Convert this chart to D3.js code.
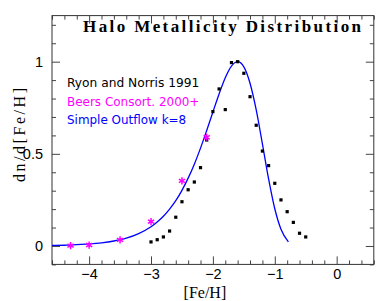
<!DOCTYPE html>
<html>
<head>
<meta charset="utf-8">
<script src="https://cdn.jsdelivr.net/npm/d3@7"></script>
<style>
  body { margin: 0; background: #fff; }
  svg { display: block; }
</style>
</head>
<body>
<div id="d3-container"></div>
<script>
/* CONSTANTS AND GLOBALS */
const width = 382,
  height = 301,
  margin = { top: 15.6, bottom: 36.6, left: 52, right: 8.2 };

// Ryan and Norris 1991 (black squares)
const rnFeH = [-3.0, -2.9, -2.8, -2.7, -2.6, -2.5, -2.4, -2.3, -2.2, -2.1, -2.0, -1.9, -1.8,
  -1.7, -1.6, -1.5, -1.4, -1.3, -1.2, -1.1, -1.0, -0.9, -0.8, -0.7, -0.6, -0.5];
const rnN = [0.022, 0.034, 0.049, 0.081, 0.156, 0.24, 0.305, 0.347, 0.425, 0.575, 0.729, 0.852, 0.74,
  0.995, 1.0, 0.937, 0.81, 0.655, 0.515, 0.436, 0.34, 0.25, 0.186, 0.128, 0.069, 0.049];

// Beers Consort. 2000+ (magenta stars)
const beersFeH = [-4.3, -4.0, -3.5, -3.0, -2.5, -2.1];
const beersN = [0.002, 0.005, 0.033, 0.132, 0.353, 0.59];

// Simple Outflow k=8 (blue curve)
const outflowFeH = [-4.6, -4.4, -4.2, -4.0, -3.8, -3.6, -3.4, -3.2, -3.0, -2.9, -2.8, -2.7, -2.6,
  -2.5, -2.4, -2.3, -2.2, -2.1, -2.0, -1.9, -1.8, -1.7, -1.6, -1.5, -1.4, -1.3, -1.2, -1.1,
  -1.0, -0.9, -0.78];
const outflowN = [0.003, 0.004, 0.007, 0.011, 0.017, 0.027, 0.042, 0.067, 0.104, 0.13, 0.161, 0.2, 0.246,
  0.302, 0.368, 0.444, 0.531, 0.627, 0.727, 0.825, 0.913, 0.976, 1.0, 0.972, 0.883, 0.738, 0.554, 0.364,
  0.202, 0.091, 0.022];

const xMajor = [-4, -3, -2, -1, 0];
const yMajor = [0, 0.5, 1];

const legendItems = ["Ryon and Norris 1991", "Beers Consort. 2000+", "Simple Outflow k=8"];
const legendColors = ["#000", "#ff00ff", "#0000ff"];

let svg;

/* INITIALIZING FUNCTION */
init();

function init() {
  svg = d3.select("#d3-container")
    .append("svg")
    .attr("width", width)
    .attr("height", height);
  draw();
}

/* DRAW FUNCTION */
function draw() {
  const x = d3.scaleLinear().domain([-4.6, 0.6]).range([margin.left, width - margin.right]);
  const y = d3.scaleLinear().domain([-0.1, 1.25]).range([height - margin.bottom, margin.top]);

  const xMinor = d3.range(-4.6, 0.61, 0.2).map(d => +d.toFixed(1)).filter(d => !xMajor.includes(d));
  const yMinor = d3.range(-0.1, 1.251, 0.1).map(d => +d.toFixed(1)).filter(d => !yMajor.includes(d));

  const x0 = x.range()[0], x1 = x.range()[1], y0 = y.range()[0], y1 = y.range()[1];

  // ticks, inward on all four sides
  const addAxis = (axisFn, pos, values, size, labels) => {
    const ax = axisFn(axisFn === d3.axisBottom || axisFn === d3.axisTop ? x : y)
      .tickValues(values)
      .tickSize(-size)
      .tickPadding(axisFn === d3.axisBottom ? 4 : 9)
      .tickFormat(labels ? (axisFn === d3.axisBottom ? d3.format("d") : d => String(d)) : "");
    const g = svg.append("g").attr("transform", pos).call(ax);
    g.select(".domain").remove();
    g.selectAll(".tick line").attr("stroke", "#444");
    g.selectAll("text")
      .attr("fill", "#000")
      .style("font-family", "'Liberation Sans', Arial, sans-serif")
      .style("font-size", "14.5px");
    return g;
  };

  addAxis(d3.axisBottom, `translate(0,${y0})`, xMajor, 8, true);
  addAxis(d3.axisBottom, `translate(0,${y0})`, xMinor, 4, false);
  addAxis(d3.axisTop, `translate(0,${y1})`, xMajor, 8, false);
  addAxis(d3.axisTop, `translate(0,${y1})`, xMinor, 4, false);
  addAxis(d3.axisLeft, `translate(${x0},0)`, yMajor, 8, true);
  addAxis(d3.axisLeft, `translate(${x0},0)`, yMinor, 4, false);
  addAxis(d3.axisRight, `translate(${x1},0)`, yMajor, 8, false);
  addAxis(d3.axisRight, `translate(${x1},0)`, yMinor, 4, false);

  // frame
  svg.append("rect")
    .attr("x", x0).attr("y", y1)
    .attr("width", x1 - x0).attr("height", y0 - y1)
    .attr("fill", "none")
    .attr("stroke", "#333")
    .attr("stroke-width", 1);

  // axis titles
  svg.append("text")
    .attr("x", (x0 + x1) / 2 - 8)
    .attr("y", 298)
    .attr("text-anchor", "middle")
    .style("font-family", "'Liberation Serif', 'Times New Roman', serif")
    .style("font-size", "16px")
    .text("[Fe/H]");

  svg.append("text")
    .attr("transform", "translate(25,135) rotate(-90)")
    .attr("text-anchor", "middle")
    .attr("textLength", 94)
    .attr("lengthAdjust", "spacing")
    .style("font-family", "'Liberation Serif', 'Times New Roman', serif")
    .style("font-size", "16px")
    .text("dn/d[Fe/H]");

  // title
  svg.append("text")
    .attr("x", 83)
    .attr("y", 32)
    .attr("textLength", 278)
    .attr("lengthAdjust", "spacing")
    .style("font-family", "'Liberation Serif', 'Times New Roman', serif")
    .style("font-weight", "bold")
    .style("font-size", "17px")
    .text("Halo Metallicity Distribution");

  // legend
  svg.selectAll("text.legend")
    .data(legendItems)
    .join("text")
    .attr("class", "legend")
    .attr("x", 67)
    .attr("y", (d, i) => 87 + i * 18.5)
    .attr("fill", (d, i) => legendColors[i])
    .attr("textLength", d => d.length * 6.62)
    .attr("lengthAdjust", "spacingAndGlyphs")
    .style("font-family", "'DejaVu Sans', sans-serif")
    .style("font-size", "12.5px")
    .text(d => d);

  const plot = svg.append("g");

  // model curve
  const line = d3.line()
    .x(d => x(d[0]))
    .y(d => y(d[1]))
    .curve(d3.curveMonotoneX);

  plot.append("path")
    .datum(d3.zip(outflowFeH, outflowN))
    .attr("fill", "none")
    .attr("stroke", "#0000ff")
    .attr("stroke-width", 1.3)
    .attr("d", line);

  // Ryan & Norris squares
  plot.selectAll("rect.rn")
    .data(d3.zip(rnFeH, rnN))
    .join("rect")
    .attr("class", "rn")
    .attr("x", d => x(d[0]) - 1.6)
    .attr("y", d => y(d[1]) - 1.6)
    .attr("width", 3.2)
    .attr("height", 3.2)
    .attr("fill", "#000");

  // Beers stars
  const star = "M0,-3.6L0,3.6M-3.1,-1.8L3.1,1.8M-3.1,1.8L3.1,-1.8";
  plot.selectAll("path.beers")
    .data(d3.zip(beersFeH, beersN))
    .join("path")
    .attr("class", "beers")
    .attr("transform", d => `translate(${x(d[0])},${y(d[1])})`)
    .attr("d", star)
    .attr("fill", "none")
    .attr("stroke", "#ff00ff")
    .attr("stroke-width", 1.5);
}
</script>
</body>
</html>
